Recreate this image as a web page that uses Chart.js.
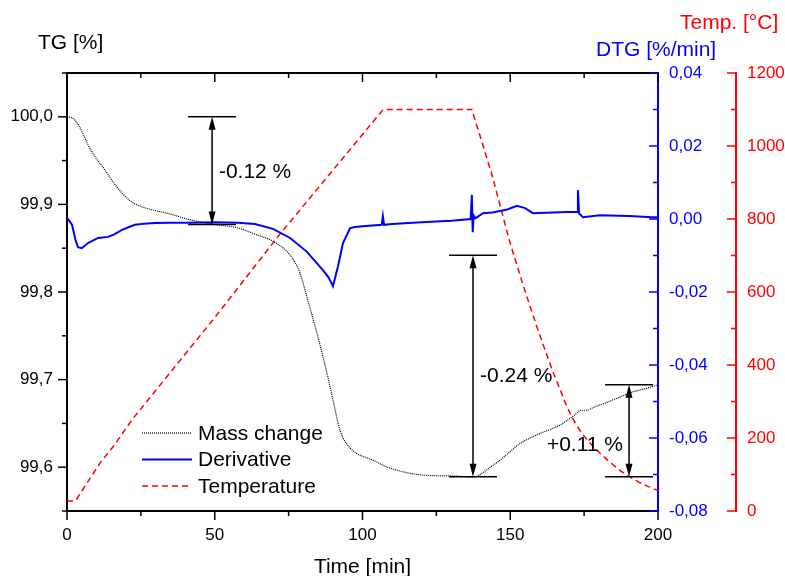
<!DOCTYPE html>
<html>
<head>
<meta charset="utf-8">
<script src="https://cdn.jsdelivr.net/npm/chart.js@4"></script>
<style>
  html, body { margin: 0; padding: 0; background: #fff; }
  canvas { display: block; }
</style>
</head>
<body>
<canvas id="tgChart" width="785" height="576"></canvas>
<script>
// mass change, TG [%] (left axis)
const tgTime = [0, 1.5, 2.7, 4, 5.5, 7.1, 10, 12.9, 15.5, 18.6, 21, 24, 29.8, 35, 41, 50, 58, 63.6, 69.7, 75.5, 78.8, 81.2, 84.6, 88, 90, 92.4, 95.8, 103.6, 109.3, 120.5, 130, 137, 139, 142, 146.5, 150, 153.3, 159, 166.8, 172, 174, 175.9, 178, 182.7, 187, 191.5, 196, 200];
const tgMass = [100.0, 99.999, 99.996, 99.99, 99.98, 99.968, 99.952, 99.939, 99.926, 99.913, 99.905, 99.899, 99.893, 99.889, 99.883, 99.877, 99.873, 99.866, 99.858, 99.842, 99.822, 99.794, 99.753, 99.707, 99.677, 99.642, 99.622, 99.608, 99.599, 99.591, 99.590, 99.589, 99.590, 99.597, 99.608, 99.618, 99.627, 99.637, 99.648, 99.660, 99.665, 99.665, 99.668, 99.674, 99.680, 99.686, 99.690, 99.694];

// derivative, DTG [%/min] (first right axis)
const dtgTime = [0, 0.8, 1.7, 2.8, 3.7, 5, 7.1, 10.5, 13.9, 16, 18.6, 21, 23, 26, 29.8, 35, 41, 50, 58, 63.6, 69.7, 75.5, 81.2, 86.6, 88.5, 90, 91.7, 93.4, 95.8, 97.5, 100, 106.5, 106.9, 107.3, 110, 120, 130, 136.6, 137, 137.3, 137.6, 138.2, 140.8, 144, 146.5, 149, 152.3, 155, 157.7, 162, 169.2, 172.6, 172.9, 173.3, 174.6, 180.4, 190, 198, 200];
const dtgValue = [0.0003, -0.0005, -0.0016, -0.0055, -0.0077, -0.008, -0.0066, -0.0052, -0.0049, -0.0042, -0.003, -0.0022, -0.0016, -0.0013, -0.0011, -0.001, -0.001, -0.0009, -0.001, -0.0014, -0.0027, -0.0052, -0.009, -0.014, -0.016, -0.0184, -0.013, -0.0066, -0.0025, -0.0022, -0.002, -0.0016, 0.0008, -0.0016, -0.0014, -0.0009, -0.0005, 0, 0.0066, -0.0036, 0.001, 0.0002, 0.0016, 0.0018, 0.0022, 0.0026, 0.0036, 0.003, 0.0016, 0.0017, 0.0019, 0.0019, 0.0079, 0.0015, 0.0005, 0.001, 0.0008, 0.0005, 0.0005];

// furnace temperature [°C] (second right axis)
const tempTime = [0, 3, 6.8, 11.2, 15.6, 22, 50, 72, 107, 137, 140, 144.2, 149.4, 152, 154.5, 156.7, 159, 161.5, 164.6, 167, 169, 171.3, 174, 177, 180.4, 184, 187, 190.3, 193.5, 197, 200];
const tempValue = [27, 29, 77, 132, 176, 250, 530, 758, 1100, 1100, 1022, 910, 750, 680, 615, 561, 505, 447, 378, 330, 289, 250, 215, 186, 158, 132, 112, 94, 79, 66, 56];

// mass steps marked with double arrows
const stepText = ['-0.12 %', '-0.24 %', '+0.11 %'];
const stepTime = [49.1, 137.4, 190.2];
const stepTop = [100.0, 99.842, 99.694];
const stepBottom = [99.877, 99.589, 99.589];
const stepTextTime = [51.4, 139.8, 162.4];
const stepTextTG = [99.930, 99.697, 99.619];

const FONT = '"Liberation Sans", Arial, Helvetica, sans-serif';
Chart.defaults.font.family = FONT;
Chart.defaults.font.size = 17;
Chart.defaults.color = '#000';

const pts = (xs, ys) => xs.map((x, i) => ({ x, y: ys[i] }));
const comma = (v, d) => v.toFixed(d).replace('.', ',');

// tick marks: labelled ones longer, others shorter; direction per axis like the original plot
const frameTicks = {
  id: 'frameTicks',
  afterDraw(chart) {
    const { ctx, chartArea: a, scales } = chart;
    ctx.save();
    const mark = (scale, color, fn) => {
      ctx.strokeStyle = color;
      scale.ticks.forEach(t => {
        const len = t.label !== '' ? 9 : 5;
        const p = scale.getPixelForValue(t.value);
        ctx.beginPath(); fn(p, len); ctx.stroke();
      });
    };
    // top frame line
    ctx.strokeStyle = '#000'; ctx.lineWidth = 2;
    ctx.beginPath(); ctx.moveTo(a.left, a.top); ctx.lineTo(a.right, a.top); ctx.stroke();
    ctx.lineWidth = 1.5;
    mark(scales.x, '#000', (p, l) => { ctx.moveTo(p, a.bottom); ctx.lineTo(p, a.bottom + l); });
    mark(scales.x, '#000', (p, l) => { ctx.moveTo(p, a.top); ctx.lineTo(p, a.top + l); });
    mark(scales.yTG, '#000', (p, l) => { ctx.moveTo(a.left - l, p); ctx.lineTo(a.left, p); });
    const d = scales.yDTG.left;
    mark(scales.yDTG, '#0000ff', (p, l) => { ctx.moveTo(d - l, p); ctx.lineTo(d, p); });
    const r = scales.yTemp.left;
    mark(scales.yTemp, '#ff0000', (p, l) => { ctx.moveTo(r - l, p); ctx.lineTo(r, p); });
    ctx.restore();
  }
};

const arrowHead = (ctx, x, y, dir) => {
  ctx.beginPath();
  ctx.moveTo(x, y);
  ctx.lineTo(x - 3.5, y + dir * 13);
  ctx.lineTo(x + 3.5, y + dir * 13);
  ctx.closePath();
  ctx.fill();
};

const steps = {
  id: 'steps',
  afterDatasetsDraw(chart) {
    const { ctx, scales: { x, yTG } } = chart;
    ctx.save();
    ctx.strokeStyle = '#000'; ctx.fillStyle = '#000'; ctx.lineWidth = 1.5;
    ctx.font = '21px ' + FONT;
    ctx.textBaseline = 'alphabetic';
    stepTime.forEach((t, i) => {
      const px = x.getPixelForValue(t);
      const y1 = yTG.getPixelForValue(stepTop[i]);
      const y2 = yTG.getPixelForValue(stepBottom[i]);
      [y1, y2].forEach(y => { ctx.beginPath(); ctx.moveTo(px - 24, y); ctx.lineTo(px + 24, y); ctx.stroke(); });
      ctx.beginPath(); ctx.moveTo(px, y1 + 10); ctx.lineTo(px, y2 - 10); ctx.stroke();
      arrowHead(ctx, px, y1, 1);
      arrowHead(ctx, px, y2, -1);
      ctx.fillText(stepText[i], x.getPixelForValue(stepTextTime[i]), yTG.getPixelForValue(stepTextTG[i]));
    });
    ctx.restore();
  }
};

const titlesAndLegend = {
  id: 'titlesAndLegend',
  afterDraw(chart) {
    const ctx = chart.ctx;
    ctx.save();
    ctx.font = '21px ' + FONT;
    ctx.textBaseline = 'alphabetic';
    ctx.fillStyle = '#000'; ctx.fillText('TG [%]', 38, 49);
    ctx.fillStyle = '#0000ff'; ctx.fillText('DTG [%/min]', 596, 56);
    ctx.fillStyle = '#ff0000'; ctx.fillText('Temp. [°C]', 680, 29);
    // legend
    ctx.textBaseline = 'middle';
    chart.data.datasets.forEach((ds, i) => {
      const y = 433 + i * 26.5;
      ctx.strokeStyle = ds.borderColor;
      ctx.lineWidth = ds.borderWidth;
      ctx.setLineDash(ds.borderDash || []);
      ctx.beginPath(); ctx.moveTo(142, y); ctx.lineTo(192, y); ctx.stroke();
      ctx.setLineDash([]);
      ctx.fillStyle = '#000';
      ctx.fillText(ds.label, 198, y + 1);
    });
    ctx.restore();
  }
};

const noGrid = { display: false, drawTicks: false };

new Chart(document.getElementById('tgChart'), {
  type: 'line',
  data: {
    datasets: [
      { label: 'Mass change', data: pts(tgTime, tgMass), yAxisID: 'yTG', borderColor: '#000', borderWidth: 1.2, borderDash: [1, 1], cubicInterpolationMode: 'monotone' },
      { label: 'Derivative', data: pts(dtgTime, dtgValue), yAxisID: 'yDTG', borderColor: '#0000ff', borderWidth: 2 },
      { label: 'Temperature', data: pts(tempTime, tempValue), yAxisID: 'yTemp', borderColor: '#ff0000', borderWidth: 1.5, borderDash: [6, 4] }
    ]
  },
  options: {
    responsive: false,
    animation: false,
    layout: { padding: { top: 73, left: 0, right: 0, bottom: 0 } },
    elements: { point: { radius: 0 }, line: { tension: 0 } },
    plugins: { legend: { display: false }, tooltip: { enabled: false } },
    scales: {
      x: {
        type: 'linear', min: 0, max: 200,
        grid: noGrid,
        border: { color: '#000', width: 2 },
        ticks: { stepSize: 25, autoSkip: false, maxRotation: 0, padding: 14, callback: v => v % 50 === 0 ? String(v) : '' },
        title: { display: true, text: 'Time [min]', font: { size: 21, lineHeight: 0.8 }, padding: 0 },
        afterFit: s => { s.height = 65; }
      },
      yTG: {
        position: 'left', min: 99.55, max: 100.05,
        grid: noGrid,
        border: { color: '#000', width: 2 },
        ticks: { stepSize: 0.05, autoSkip: false, padding: 14, callback: v => { const k = Math.round(v * 100); return k % 10 === 0 ? comma(k / 100, 1) : ''; } },
        afterFit: s => { s.width = 67; }
      },
      yDTG: {
        position: 'right', min: -0.08, max: 0.04,
        grid: noGrid,
        border: { color: '#0000ff', width: 2 },
        ticks: { stepSize: 0.01, autoSkip: false, padding: 11, color: '#0000ff', callback: v => { const k = Math.round(v * 100); return k % 2 === 0 ? comma((k || 0) / 100, 2) : ''; } },
        afterFit: s => { s.width = 78; }
      },
      yTemp: {
        position: 'right', min: 0, max: 1200,
        grid: noGrid,
        border: { color: '#ff0000', width: 2 },
        ticks: { stepSize: 100, autoSkip: false, padding: 11, color: '#ff0000', callback: v => v % 200 === 0 ? String(v) : '' },
        afterFit: s => { s.width = 49; }
      }
    }
  },
  plugins: [steps, frameTicks, titlesAndLegend]
});
</script>
</body>
</html>
